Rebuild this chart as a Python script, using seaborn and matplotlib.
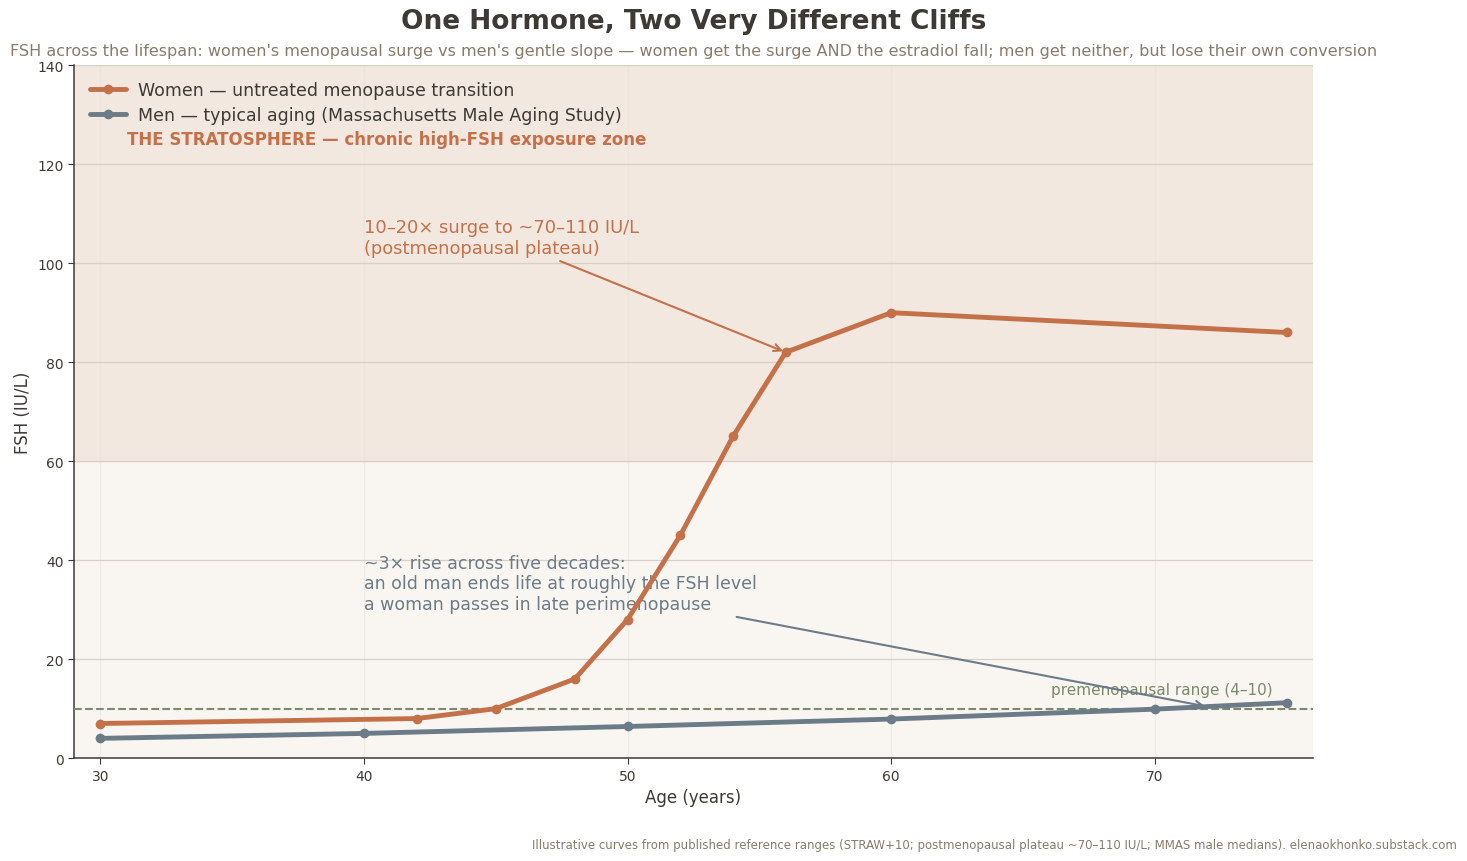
import matplotlib
matplotlib.use('Agg')
import matplotlib.pyplot as plt
import seaborn as sns
import pandas as pd

women_age = [30, 42, 45, 48, 50, 52, 54, 56, 60, 75]
women_fsh = [7, 8, 10, 16, 28, 45, 65, 82, 90, 86]
men_age = [30, 40, 50, 60, 70, 75]
men_fsh = [4, 5, 6.4, 7.9, 9.9, 11.2]

women_label = 'Women — untreated menopause transition'
men_label = 'Men — typical aging (Massachusetts Male Aging Study)'

TERRA = '#c4714a'
SLATE = '#6b7b87'
OLIVE = '#7a8a6a'
INK = '#3d3a35'
MUTED = '#8a7a6a'

sns.set_style('white')
plt.rcParams['font.family'] = ['DejaVu Sans']

df = pd.concat([
    pd.DataFrame({'age': women_age, 'fsh': women_fsh, 'group': women_label}),
    pd.DataFrame({'age': men_age, 'fsh': men_fsh, 'group': men_label}),
])

fig = plt.figure(figsize=(14.67, 8.62), dpi=100)
ax = fig.add_axes([0.0504, 0.1193, 0.8446, 0.8039])
ax.set_facecolor('#f9f6f2')

# stratosphere zone
ax.axhspan(60, 140, color='#f2e8e0', zorder=0)

sns.lineplot(data=df, x='age', y='fsh', hue='group', palette=[TERRA, SLATE],
             marker='o', markersize=7, markeredgewidth=0, linewidth=3.5,
             ax=ax, zorder=4)

ax.axhline(10, color=OLIVE, linestyle='--', linewidth=1.5, zorder=3)
ax.text(70.25, 12.4, 'premenopausal range (4–10)', color=OLIVE, fontsize=11,
        ha='center', va='bottom')

ax.text(31, 125, 'THE STRATOSPHERE — chronic high-FSH exposure zone',
        color=TERRA, fontsize=12, fontweight='bold', va='center')

ax.annotate('10–20× surge to ~70–110 IU/L\n(postmenopausal plateau)',
            xy=(56, 82), xytext=(40, 101.3), color=TERRA, fontsize=12.9,
            ha='left', va='bottom',
            arrowprops=dict(arrowstyle='->', color=TERRA, lw=1.5))

ax.annotate('~3× rise across five decades:\nan old man ends life at roughly the FSH level\n'
            'a woman passes in late perimenopause',
            xy=(72, 10.4), xytext=(40, 29.3), color=SLATE, fontsize=12.5,
            ha='left', va='bottom',
            arrowprops=dict(arrowstyle='->', color=SLATE, lw=1.5))

ax.set_xlim(29, 76)
ax.set_ylim(0, 140)
ax.set_xticks([30, 40, 50, 60, 70])
ax.set_yticks(range(0, 141, 20))
ax.grid(axis='y', color='#d9cfc4', linewidth=0.9, zorder=1)
ax.grid(axis='x', color='#e8e2dc', linewidth=0.9, alpha=0.6, zorder=1)
ax.set_axisbelow(True)
ax.tick_params(axis='both', labelsize=10, colors=INK, length=4, left=True, bottom=True)
ax.set_xlabel('Age (years)', fontsize=12, color=INK)
ax.set_ylabel('FSH (IU/L)', fontsize=12, color=INK)
for side in ['top', 'right']:
    ax.spines[side].set_visible(False)
for side in ['left', 'bottom']:
    ax.spines[side].set_color(INK)
    ax.spines[side].set_linewidth(1.1)

leg = ax.legend(loc='upper left', frameon=False, fontsize=12.5, title=None,
                handlelength=2.1, handletextpad=0.7, borderaxespad=0.5,
                labelspacing=0.4)
for t in leg.get_texts():
    t.set_color(INK)

fig.text(0.4727, 0.974, 'One Hormone, Two Very Different Cliffs', ha='center', va='center',
         fontsize=19, fontweight='bold', color=INK)
fig.text(0.4727, 0.940, "FSH across the lifespan: women's menopausal surge vs men's gentle slope — "
         "women get the surge AND the estradiol fall; men get neither, but lose their own conversion",
         ha='center', va='center', fontsize=11.5, color=MUTED)
fig.text(0.9932, 0.019, 'Illustrative curves from published reference ranges (STRAW+10; postmenopausal '
         'plateau ~70–110 IU/L; MMAS male medians). elenaokhonko.substack.com',
         ha='right', va='center', fontsize=8.5, color=MUTED)

fig.savefig('out.png', dpi=100)
